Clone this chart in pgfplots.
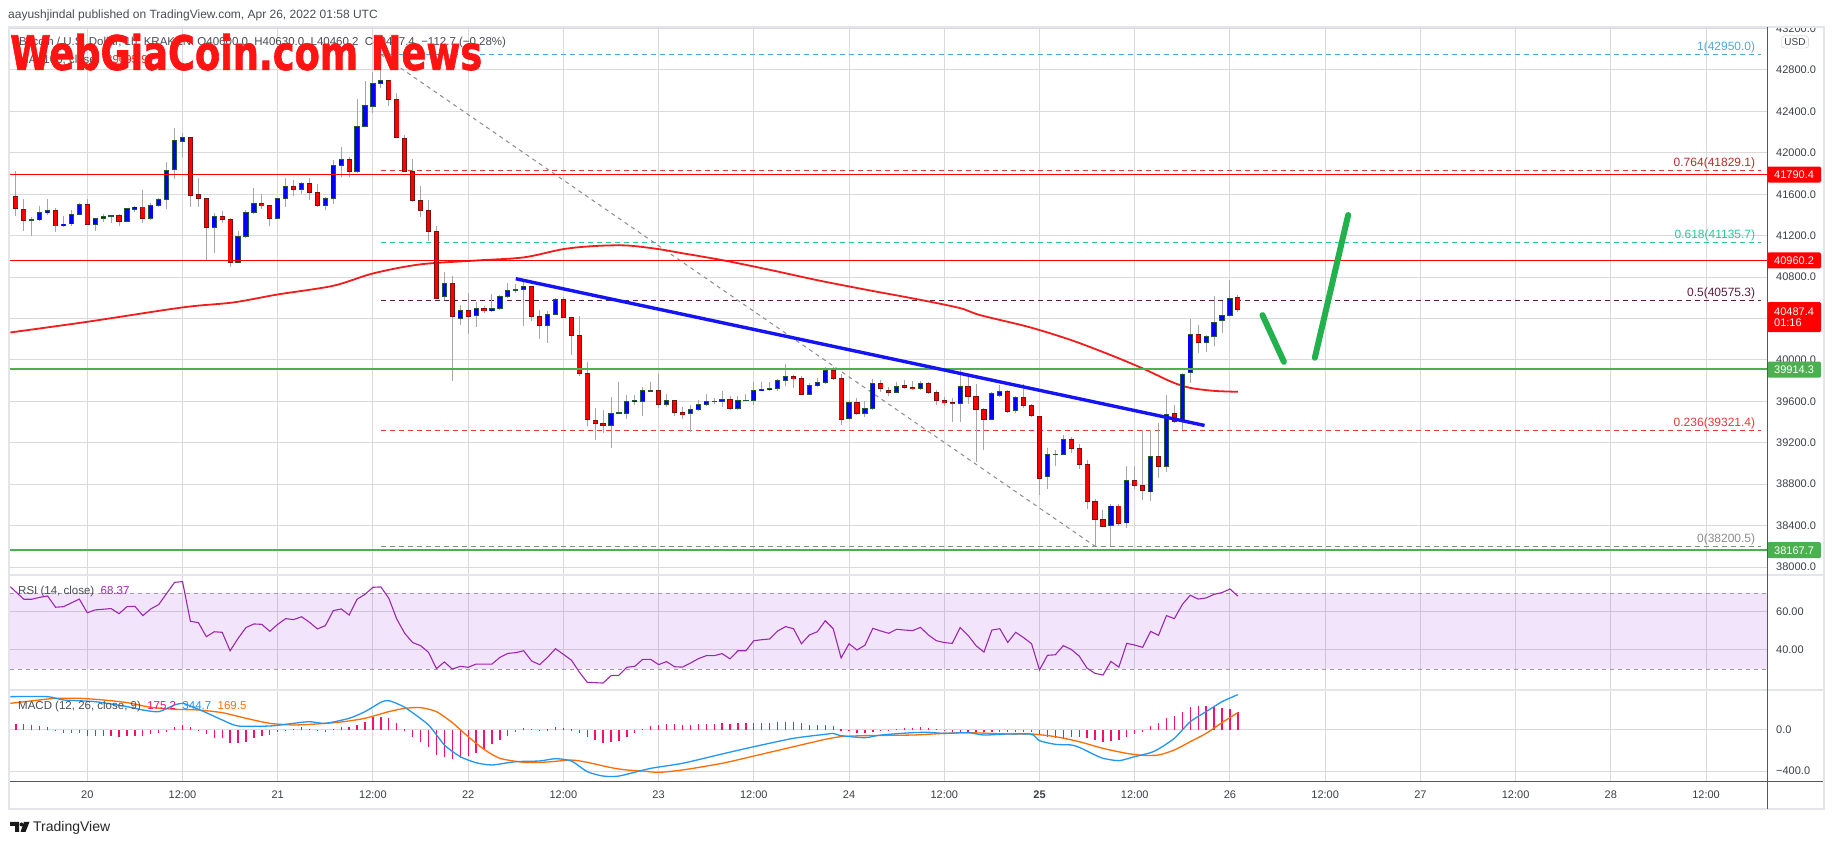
\documentclass[border=0pt]{standalone}
\usepackage{fontspec}
\setmainfont{Liberation Sans}
\newfontface\wmfont{DejaVu Sans Bold}[FakeBold=1.6]
\usepackage{graphicx}
\usepackage{pgfplots}
\usepackage{pgfplotstable}
\pgfplotsset{compat=1.18}
\definecolor{grid}{HTML}{DADADA}
\definecolor{tick}{HTML}{3C3F48}
\definecolor{frame}{HTML}{E3E5EA}
\definecolor{scaleln}{HTML}{55585F}
\definecolor{tvred}{HTML}{FF0000}
\definecolor{tvgreen}{HTML}{4CAF50}
\definecolor{upbody}{HTML}{0000FF}
\definecolor{upedge}{HTML}{1F5A32}
\definecolor{dnbody}{HTML}{FF0000}
\definecolor{dnedge}{HTML}{7A1010}
\definecolor{wick}{HTML}{A6A6A6}
\definecolor{sma}{HTML}{F21C1C}
\definecolor{trend}{HTML}{1414F5}
\definecolor{arrowgreen}{HTML}{22B14C}
\definecolor{fibone}{HTML}{4FA9DF}
\definecolor{fibred}{HTML}{E53935}
\definecolor{fibteal}{HTML}{26C99A}
\definecolor{fibhalf}{HTML}{5A1E3C}
\definecolor{fibzero}{HTML}{8C8C8C}
\definecolor{rsi}{HTML}{9C27B0}
\definecolor{rsiband}{HTML}{8700E1}
\definecolor{bandline}{HTML}{9E9E9E}
\definecolor{macd}{HTML}{2196F3}
\definecolor{signal}{HTML}{FF6D00}
\definecolor{hist}{HTML}{FF0F6B}
\definecolor{wmred}{HTML}{FF1414}
\definecolor{txt}{HTML}{4A4D55}
\newcommand\fs[1]{\fontsize{#1}{#1}\selectfont}

\pgfplotsset{
  tv/.style={
    scale only axis, width=1757pt, xmin=-9.74, xmax=211.68,
    anchor=south west, clip mode=individual,
    axis line style={draw=none}, tick style={draw=none},
    xtick={0,12,...,204}, xticklabels={}, xmajorgrids, ymajorgrids,
    grid style={draw=grid, line width=1pt},
    yticklabel pos=right,
    ticklabel style={font=\fs{11}, text=tick},
    yticklabel style={anchor=west, inner sep=0pt, xshift=9pt},
  },
  body/.style n args={2}{draw=none,
    error bars/.cd, y dir=both, y explicit, error mark=none,
    error bar style={draw=#1, line width=#2}},
  upc/.style={restrict expr to domain={\thisrow{c}-\thisrow{o}}{0:100000}},
  dnc/.style={restrict expr to domain={\thisrow{c}-\thisrow{o}}{-100000:-0.5}},
}
\tikzset{
  pricebox/.style={anchor=west, fill=#1, text=white, font=\fs{11},
    text width=40pt, align=left, inner xsep=7pt, inner ysep=2.5pt,
    minimum height=16pt, rounded corners=1.5pt},
}

% hourly candles, t = hours from Apr 20 00:00
\pgfplotstableread{
t o h l c
-9 41579 41824 41393 41463
-8 41454 41550 41248 41348
-7 41354 41376 41199 41354
-6 41351 41486 41341 41425
-5 41422 41550 41396 41444
-4 41444 41463 41232 41293
-3 41293 41393 41280 41312
-2 41312 41447 41296 41406
-1 41406 41512 41396 41502
0 41502 41550 41302 41309
1 41309 41373 41248 41367
2 41367 41408 41334 41386
3 41393 41402 41318 41393
4 41396 41412 41296 41334
5 41334 41470 41328 41463
6 41454 41486 41425 41476
7 41476 41640 41325 41364
8 41364 41512 41351 41492
9 41492 41560 41480 41550
10 41550 41914 41457 41831
11 41840 42236 41747 42120
12 42108 42191 41956 42149
13 42149 42149 41480 41586
14 41599 41753 41480 41560
15 41560 41560 40964 41280
16 41280 41415 41035 41386
17 41386 41441 41318 41357
18 41354 41367 40900 40942
19 40942 41248 40942 41193
20 41193 41450 41174 41425
21 41425 41660 41405 41512
22 41512 41602 41457 41489
23 41492 41492 41296 41364
24 41364 41566 41364 41560
25 41560 41757 41480 41676
26 41676 41737 41586 41644
27 41644 41718 41599 41705
28 41705 41757 41544 41618
29 41618 41695 41480 41489
30 41489 41576 41447 41560
31 41560 41930 41502 41879
32 41879 42053 41769 41937
33 41937 41963 41763 41818
34 41818 42520 41802 42256
35 42256 42690 42256 42459
36 42446 42777 42381 42671
37 42671 42950 42629 42700
38 42700 42700 42455 42517
39 42517 42575 42149 42149
40 42140 42172 41821 41821
41 41821 41940 41528 41541
42 41541 41679 41383 41444
43 41444 41544 41151 41241
44 41241 41293 40591 40591
45 40610 40848 40578 40739
46 40739 40810 39798 40417
47 40401 40530 40336 40478
48 40478 40642 40249 40417
49 40427 40562 40320 40497
50 40497 40520 40455 40475
51 40475 40632 40465 40497
52 40497 40623 40481 40610
53 40610 40739 40594 40671
54 40678 40732 40642 40678
55 40678 40755 40330 40710
56 40710 40710 40375 40417
57 40417 40481 40201 40330
58 40330 40475 40159 40439
59 40439 40594 40433 40584
60 40584 40610 40407 40407
61 40407 40407 40046 40233
62 40233 40423 39843 39869
63 39869 39982 39360 39425
64 39415 39531 39225 39386
65 39386 39521 39296 39367
66 39367 39644 39145 39483
67 39489 39782 39483 39489
68 39483 39660 39425 39602
69 39595 39660 39563 39611
70 39595 39740 39460 39708
71 39702 39789 39692 39702
72 39702 39863 39537 39570
73 39570 39670 39547 39611
74 39605 39605 39460 39492
75 39492 39541 39431 39470
76 39483 39563 39305 39524
77 39518 39611 39505 39573
78 39570 39669 39554 39599
79 39599 39637 39579 39599
80 39599 39702 39547 39621
81 39621 39647 39515 39528
82 39528 39650 39521 39611
83 39611 39669 39605 39611
84 39608 39789 39560 39708
85 39708 39789 39702 39718
86 39711 39789 39702 39728
87 39724 39818 39702 39805
88 39802 39956 39750 39843
89 39840 39853 39731 39818
90 39821 39843 39660 39666
91 39666 39773 39660 39753
92 39750 39830 39734 39782
93 39782 39934 39766 39898
94 39898 39934 39805 39818
95 39821 39863 39373 39425
96 39434 39611 39418 39589
97 39589 39634 39467 39483
98 39483 39602 39450 39531
99 39531 39811 39515 39773
100 39773 39805 39692 39721
101 39708 39740 39650 39686
102 39686 39789 39676 39744
103 39753 39805 39724 39734
104 39734 39795 39708 39721
105 39721 39795 39708 39769
106 39769 39789 39666 39686
107 39686 39708 39563 39608
108 39608 39644 39557 39589
109 39589 39631 39405 39579
110 39579 39901 39402 39747
111 39747 39837 39579 39644
112 39650 39772 39016 39521
113 39521 39531 39128 39425
114 39425 39692 39418 39676
115 39657 39756 39644 39698
116 39698 39708 39483 39499
117 39515 39650 39483 39637
118 39637 39772 39531 39557
119 39563 39579 39450 39460
120 39457 39457 38694 38855
121 38871 39145 38758 39087
122 39087 39129 38974 39087
123 39087 39273 39080 39231
124 39231 39257 39103 39145
125 39145 39186 38942 38990
126 38990 39032 38565 38629
127 38629 38661 38201 38458
128 38458 38549 38388 38394
129 38403 38613 38201 38590
130 38590 38613 38394 38420
131 38426 38974 38372 38838
132 38838 38974 38758 38784
133 38784 39322 38645 38735
134 38725 39322 38639 39071
135 39071 39386 38855 38967
136 38967 39660 38919 39473
137 39483 39563 39386 39402
138 39402 39869 39328 39859
139 39879 40391 39773 40246
140 40246 40336 40069 40169
141 40169 40240 40079 40224
142 40224 40616 40133 40362
143 40381 40568 40262 40429
144 40429 40771 40423 40594
145 40600 40630 40460 40487
}\candles

\pgfplotstableread{
t v
-9 58
-8 58
-7 46
-6 39
-5 26
-4 3
-3 -26
-2 -33
-1 -33
0 -55
1 -55
2 -55
3 -55
4 -65
5 -55
6 -55
7 -55
8 -39
9 -33
10 -13
11 33
12 49
13 33
14 -7
15 -39
16 -75
17 -81
18 -130
19 -130
20 -114
21 -81
22 -55
23 -49
24 -23
25 -7
26 13
27 26
28 13
29 3
30 -10
31 13
32 26
33 26
34 49
35 81
36 124
37 130
38 114
39 72
40 7
41 -65
42 -114
43 -163
44 -244
45 -260
46 -286
47 -276
48 -254
49 -221
50 -185
51 -140
52 -98
53 -55
54 -20
55 16
56 13
57 3
58 7
59 26
60 20
61 7
62 -33
63 -72
64 -101
65 -124
66 -117
67 -104
68 -65
69 -33
70 10
71 39
72 49
73 58
74 58
75 49
76 49
77 58
78 58
79 58
80 65
81 58
82 65
83 65
84 65
85 65
86 65
87 78
88 78
89 78
90 65
91 49
92 49
93 49
94 39
95 7
96 -7
97 -26
98 -26
99 -16
100 -7
101 -7
102 10
103 23
104 20
105 33
106 23
107 10
108 -7
109 -16
110 -16
111 -16
112 -16
113 -23
114 -16
115 -16
116 -16
117 -16
118 -16
119 -23
120 -39
121 -65
122 -81
123 -75
124 -65
125 -65
126 -81
127 -98
128 -114
129 -104
130 -98
131 -65
132 -39
133 -13
134 42
135 65
136 117
137 137
138 176
139 228
140 234
141 234
142 228
143 218
144 205
145 175
}\histo

\begin{document}
\begin{tikzpicture}[x=1pt,y=1pt]
\fill[white] (0,0) rectangle (1834,845);
\useasboundingbox (0,0) rectangle (1834,845);

% ---------------- price panel
\begin{axis}[tv, at={(10pt,270pt)}, height=548pt, ymin=37923, ymax=43215,
  ytick={38000,38400,...,43200},
  yticklabels={38000.0,38400.0,38800.0,39200.0,39600.0,40000.0,40400.0,40800.0,41200.0,41600.0,42000.0,42400.0,42800.0,43200.0}]
% fib retracement
\addplot[fibone, line width=1pt, dash pattern=on 5pt off 4pt] coordinates {(37,42950) (210.9,42950)};
\addplot[fibred, line width=1pt, dash pattern=on 5pt off 4pt] coordinates {(37,41829.1) (210.9,41829.1)};
\addplot[fibteal, line width=1pt, dash pattern=on 5pt off 4pt] coordinates {(37,41135.7) (210.9,41135.7)};
\addplot[fibhalf, line width=1pt, dash pattern=on 5pt off 4pt] coordinates {(37,40575.3) (210.9,40575.3)};
\addplot[fibred, line width=1pt, dash pattern=on 5pt off 4pt] coordinates {(37,39321.4) (210.9,39321.4)};
\addplot[fibzero, line width=1pt, dash pattern=on 5pt off 4pt] coordinates {(37,38200.5) (210.9,38200.5)};
\addplot[fibzero, line width=1pt, dash pattern=on 4pt off 4pt] coordinates {(37,42950) (127,38200.5)};
% 100 SMA
\addplot[sma, line width=1.8pt, smooth, tension=0.5] coordinates {
(-9.7,40265) (0,40368) (12,40507) (18.4,40555) (24,40632) (31,40716) (36,40835)
(41.9,40922) (49,40960) (55,40990) (60,41070) (64,41100) (68,41105) (72,41070)
(75,41030) (80,40964) (86,40870) (92,40770) (98,40680) (105,40580) (110,40500)
(112.5,40433) (118.7,40317) (124,40191) (129,40046) (133,39918) (136.7,39786)
(139,39730) (142,39701) (145,39692)};
% candles
\addplot[body={wick}{1pt}]
  table[x=t, y expr={(\thisrow{h}+\thisrow{l})/2}, y error expr={(\thisrow{h}-\thisrow{l})/2}]{\candles};
\addplot[upc, body={upedge}{5.2pt}]
  table[x=t, y expr={(\thisrow{o}+\thisrow{c})/2}, y error expr={abs(\thisrow{c}-\thisrow{o})/2+4}]{\candles};
\addplot[upc, body={upbody}{3.6pt}]
  table[x=t, y expr={(\thisrow{o}+\thisrow{c})/2}, y error expr={max(abs(\thisrow{c}-\thisrow{o})/2-4,0)}]{\candles};
\addplot[dnc, body={dnedge}{5.2pt}]
  table[x=t, y expr={(\thisrow{o}+\thisrow{c})/2}, y error expr={abs(\thisrow{c}-\thisrow{o})/2+4}]{\candles};
\addplot[dnc, body={dnbody}{3.6pt}]
  table[x=t, y expr={(\thisrow{o}+\thisrow{c})/2}, y error expr={max(abs(\thisrow{c}-\thisrow{o})/2-4,0)}]{\candles};
% support / resistance
\addplot[tvred, line width=1.8pt] coordinates {(-9.74,41790.4) (211.68,41790.4)};
\addplot[tvred, line width=1.8pt] coordinates {(-9.74,40960.2) (211.68,40960.2)};
\addplot[tvgreen, line width=1.8pt] coordinates {(-9.74,39914.3) (211.68,39914.3)};
\addplot[tvgreen, line width=1.8pt] coordinates {(-9.74,38167.7) (211.68,38167.7)};
% trend line and arrows
\addplot[trend, line width=3.4pt] coordinates {(54,40784) (140.8,39367)};
\addplot[arrowgreen, line width=6pt, line cap=round] coordinates {(148.1,40433) (150.8,39982)};
\addplot[arrowgreen, line width=6pt, line cap=round] coordinates {(154.7,40021) (158.9,41399)};
% fib labels
\begin{scope}[every node/.style={anchor=south east, font=\fs{12}, inner sep=1.5pt}]
\node[text=fibone] at (axis cs:210.4,42950) {1(42950.0)};
\node[text=fibred!80!black] at (axis cs:210.4,41829.1) {0.764(41829.1)};
\node[text=fibteal] at (axis cs:210.4,41135.7) {0.618(41135.7)};
\node[text=fibhalf] at (axis cs:210.4,40575.3) {0.5(40575.3)};
\node[text=fibred] at (axis cs:210.4,39321.4) {0.236(39321.4)};
\node[text=fibzero] at (axis cs:210.4,38200.5) {0(38200.5)};
\end{scope}
% price scale boxes
\node[pricebox=tvred] at (axis cs:211.68,41790.4) {41790.4};
\node[pricebox=tvred] at (axis cs:211.68,40960.2) {40960.2};
\node[pricebox=tvred, minimum height=30pt] at (axis cs:211.68,40413) {40487.4\\01:16};
\node[pricebox=tvgreen] at (axis cs:211.68,39906) {39914.3};
\node[pricebox=tvgreen] at (axis cs:211.68,38162) {38167.7};
\end{axis}

% ---------------- RSI panel
\begin{axis}[tv, at={(10pt,155pt)}, height=115pt, ymin=18.95, ymax=79.47,
  ytick={40,60}, yticklabels={40.00,60.00}]
\addplot[draw=none, fill=rsiband, fill opacity=0.1] coordinates {(-9.74,30) (211.68,30) (211.68,70) (-9.74,70) (-9.74,30)};
\addplot[bandline, line width=0.9pt, dash pattern=on 4pt off 4pt] coordinates {(-9.74,70) (211.68,70)};
\addplot[bandline, line width=0.9pt, dash pattern=on 4pt off 4pt] coordinates {(-9.74,30) (211.68,30)};
\addplot[rsi, line width=1.1pt] coordinates {
(-9.7,73.3) (-8,66.7) (-7,66.7) (-6,67.7) (-5,68.4) (-4,62.5) (-3,62.8) (-1,66.8)
(0,59.6) (1,61.1) (3,61.8) (4,59.1) (5,62.8) (6,63.0) (7,58.1) (8,61.6) (9,63.9)
(11,75.6) (12,76.0) (13,55.1) (14,54.4) (15,47.0) (16,49.6) (17,49.3) (18,39.6)
(19,46.1) (20,51.8) (21,53.7) (22,53.5) (23,49.8) (24,53.5) (25,56.5) (26,56.0)
(27,57.5) (28,54.6) (29,51.1) (30,52.8) (31,60.7) (32,61.6) (33,58.4) (34,66.7)
(35,69.3) (36,73.0) (37,73.2) (38,67.2) (39,56.3) (40,48.8) (41,43.9) (42,42.3)
(43,38.8) (44,30.2) (45,33.7) (46,30.0) (47,31.4) (48,30.9) (49,32.6) (51,32.6)
(52,36.1) (53,38.2) (54,38.6) (55,39.6) (56,34.2) (57,32.3) (58,36.1) (59,40.7)
(60,37.7) (61,34.7) (62,28.4) (63,23.0) (65,22.6) (66,26.5) (67,26.7) (68,30.9)
(69,31.4) (70,35.1) (71,35.1) (72,32.3) (73,33.9) (74,31.2) (75,31.0) (76,33.1)
(77,35.4) (78,37.0) (79,37.0) (80,38.1) (81,35.3) (82,39.6) (83,39.6) (84,44.9)
(85,45.4) (86,45.8) (87,50.0) (88,52.3) (89,51.2) (90,43.3) (91,47.9) (92,49.6)
(93,55.4) (94,51.2) (95,35.8) (96,43.3) (97,40.0) (98,42.5) (99,51.4) (100,50.0)
(101,48.8) (102,50.9) (103,50.5) (104,50.2) (105,51.9) (106,47.9) (107,44.9)
(108,43.9) (109,43.5) (110,51.8) (111,47.7) (112,42.3) (113,38.9) (114,50.5)
(115,51.2) (116,44.0) (117,49.3) (118,46.5) (119,43.3) (120,29.5) (121,37.2)
(122,37.5) (123,42.3) (124,40.3) (125,36.8) (126,30.4) (127,27.7) (128,26.8)
(129,34.0) (130,31.0) (131,43.5) (132,42.6) (133,41.4) (134,49.8) (135,47.7)
(136,58.1) (137,56.5) (138,64.0) (139,68.8) (140,66.8) (141,67.4) (142,69.3)
(143,70.2) (144,72.1) (145,68.37)};
\end{axis}

% ---------------- MACD panel
\begin{axis}[tv, at={(10pt,63pt)}, height=92pt, ymin=-507, ymax=390,
  ytick={-400,0}, yticklabels={−400.0,0.0},
  xticklabels={20,12:00,21,12:00,22,12:00,23,12:00,24,12:00,\textbf{25},12:00,26,12:00,27,12:00,28,12:00},
  xticklabel style={anchor=center, yshift=-13pt}]
\addplot[body={hist}{1.3pt}]
  table[x=t, y expr={\thisrow{v}/2}, y error expr={abs(\thisrow{v})/2}]{\histo};
\addplot[signal, line width=1.3pt, smooth, tension=0.4] coordinates {
(-9.7,260) (-6,293) (-4,309) (-1,309) (2,293) (5,267) (8,221) (11,202) (14,195)
(17,169) (20,114) (23,65) (26,49) (29,59) (32,78) (35,114) (38,179) (40,211)
(42,218) (44,179) (46,72) (48,-65) (50,-189) (52,-276) (55,-315) (58,-312)
(61,-293) (63,-315) (66,-367) (68,-390) (70,-400) (72,-413) (75,-390) (80,-325)
(84,-254) (89,-163) (93,-91) (95,-65) (98,-55) (104,-49) (108,-33) (111,-26)
(116,-39) (119,-39) (122,-65) (125,-114) (128,-179) (131,-228) (133,-247)
(135,-244) (137,-195) (139,-114) (141,-33) (143,72) (145,169.5)};
\addplot[macd, line width=1.3pt, smooth, tension=0.4] coordinates {
(-9.7,325) (-5,325) (-3,293) (1,276) (5,228) (7,195) (9,179) (11,244) (12,260)
(13,234) (15,169) (17,98) (19,39) (23,39) (26,65) (28,81) (30,65) (33,114)
(35,179) (37,270) (38,286) (40,221) (43,49) (45,-146) (47,-260) (49,-319)
(51,-341) (54,-309) (57,-302) (59,-280) (61,-302) (63,-406) (65,-449) (67,-449)
(71,-374) (75,-325) (80,-234) (84,-163) (89,-81) (93,-42) (94,-33) (95,-55)
(98,-75) (100,-49) (104,-26) (106,-23) (108,-33) (111,-26) (113,-49) (116,-39)
(119,-42) (120,-104) (122,-140) (124,-146) (125,-169) (127,-244) (128,-276)
(130,-299) (132,-260) (134,-221) (135,-185) (137,-81) (139,81) (141,179)
(143,276) (145,344.7)};
\end{axis}

% ---------------- frame and overlays
\fill[white] (0,818) rectangle (1834,845);
\draw[frame, line width=2pt] (9,36) rectangle (1824,818);
\draw[frame, line width=1.5pt] (10,270) -- (1823,270) (10,155) -- (1823,155);
\draw[scaleln, line width=1pt] (1767,36) -- (1767,818) (10,63) -- (1823,63);
\node[draw=black!22, rounded corners=3pt, font=\fs{10}, text=tick, inner xsep=3pt, inner ysep=2.5pt] at (1795,803) {USD};

\node[anchor=base west, inner sep=0pt, font=\fs{12}, text=txt] at (8,826) {aayushjindal published on TradingView.com, Apr 26, 2022 01:58 UTC};
\node[anchor=base west, inner sep=0pt, font=\fs{11.5}, text=txt] at (19,799) {Bitcoin / U.S. Dollar, 1h, KRAKEN\ \ O40600.0\ \ H40630.0\ \ L40460.2\ \ C40487.4\ \ −112.7 (−0.28\%)};
\node[anchor=base west, inner sep=0pt, font=\fs{11.5}, text=txt] at (19,781) {MA (100, close)\ \ \textcolor{sma}{39695.9}};
\node[anchor=south west, inner sep=0pt, text=wmred] at (10,774.3) {\resizebox{472pt}{36pt}{\wmfont WebGiaCoin.com News}};

\node[anchor=base west, inner sep=0pt, font=\fs{11.5}, text=txt] at (18,250) {RSI (14, close)\ \ \textcolor{rsi}{68.37}};
\node[anchor=base west, inner sep=0pt, font=\fs{11.5}, text=txt] at (18,135) {MACD (12, 26, close, 9)\ \ \textcolor{hist}{175.2}\ \ \textcolor{macd}{344.7}\ \ \textcolor{signal}{169.5}};

% TradingView footer
\fill[black!90] (10,23) -- (19,23) -- (19,13) -- (15,13) -- (15,19) -- (10,19) -- cycle;
\fill[black!90] (21.5,20.5) circle (2pt);
\fill[black!90] (24,23) -- (29.5,23) -- (25.5,13) -- (20.5,13) -- cycle;
\node[anchor=base west, inner sep=0pt, font=\fs{14}, text=black!85] at (33,13) {TradingView};
\end{tikzpicture}
\end{document}
